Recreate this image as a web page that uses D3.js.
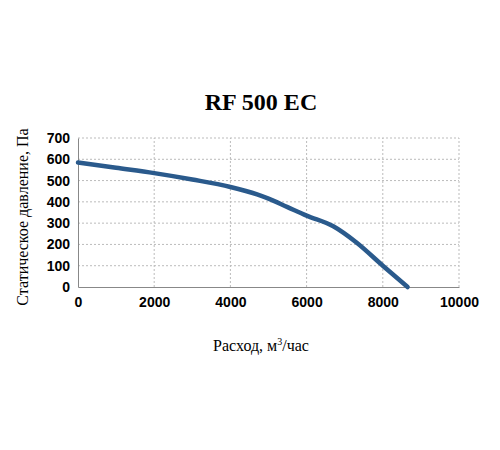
<!DOCTYPE html>
<html><head><meta charset="utf-8">
<script src="https://cdn.jsdelivr.net/npm/d3@7"></script>
<style>body{margin:0;background:#fff}</style>
</head><body><svg id="chart"></svg>
<script>
const flow = [0, 1000, 2000, 3000, 4000, 4700, 5000, 5500, 6000, 6700, 7300, 8000, 8650];
const pressure = [585, 560, 535, 505, 470, 435, 415, 375, 335, 285, 210, 100, 0];
const xTicks = [0, 2000, 4000, 6000, 8000, 10000];
const yTicks = [0, 100, 200, 300, 400, 500, 600, 700];

const width = 500, height = 450;
const margin = { top: 138, right: 41, bottom: 163, left: 78 };
const svg = d3.select("#chart").attr("width", width).attr("height", height);

const x = d3.scaleLinear().domain([0, 10000]).range([margin.left, width - margin.right]);
const y = d3.scaleLinear().domain([0, 700]).range([height - margin.bottom, margin.top]);

// grid
svg.append("g").selectAll("line").data(xTicks.slice(1)).join("line")
  .attr("x1", d => x(d)).attr("x2", d => x(d))
  .attr("y1", y(0)).attr("y2", y(700))
  .attr("stroke", "#bbb").attr("stroke-dasharray", "2,2");
svg.append("g").selectAll("line").data(yTicks.slice(1)).join("line")
  .attr("x1", x(0)).attr("x2", x(10000))
  .attr("y1", d => y(d)).attr("y2", d => y(d))
  .attr("stroke", "#bbb").attr("stroke-dasharray", "2,2");

const xAxis = svg.append("g")
  .attr("transform", `translate(0,${y(0)})`)
  .call(d3.axisBottom(x).tickValues(xTicks).tickFormat(d3.format("d")).tickSize(0).tickPadding(10));
const yAxis = svg.append("g")
  .attr("transform", `translate(${x(0)},0)`)
  .call(d3.axisLeft(y).tickValues(yTicks).tickFormat(d3.format("d")).tickSize(0).tickPadding(8));
[xAxis, yAxis].forEach(a => {
  a.select(".domain").attr("stroke", "#888");
  a.selectAll("text").style("font-family", "'Liberation Sans', Arial, sans-serif").style("font-weight", "bold")
    .style("font-size", "14px").attr("fill", "#000");
});

const line = d3.line().x((d, i) => x(flow[i])).y(d => y(d)).curve(d3.curveMonotoneX);
svg.append("path").datum(pressure).attr("d", line)
  .attr("fill", "none").attr("stroke", "#2a5a8c").attr("stroke-width", 4.5)
  .attr("stroke-linecap", "round");

svg.append("text").attr("x", 261).attr("y", 110).attr("text-anchor", "middle")
  .style("font-family", "'Liberation Serif', serif").style("font-weight", "bold")
  .style("font-size", "24px").text("RF 500 EC");

const xl = svg.append("text").attr("x", 261).attr("y", 351).attr("text-anchor", "middle")
  .style("font-family", "'Liberation Serif', serif").style("font-size", "16px");
xl.append("tspan").text("Расход, м");
xl.append("tspan").attr("dy", -6).style("font-size", "10px").text("3");
xl.append("tspan").attr("dy", 6).text("/час");

svg.append("text").attr("transform", "translate(28,217) rotate(-90)").attr("text-anchor", "middle")
  .style("font-family", "'Liberation Serif', serif").style("font-size", "16px")
  .text("Статическое давление, Па");
</script></body></html>
